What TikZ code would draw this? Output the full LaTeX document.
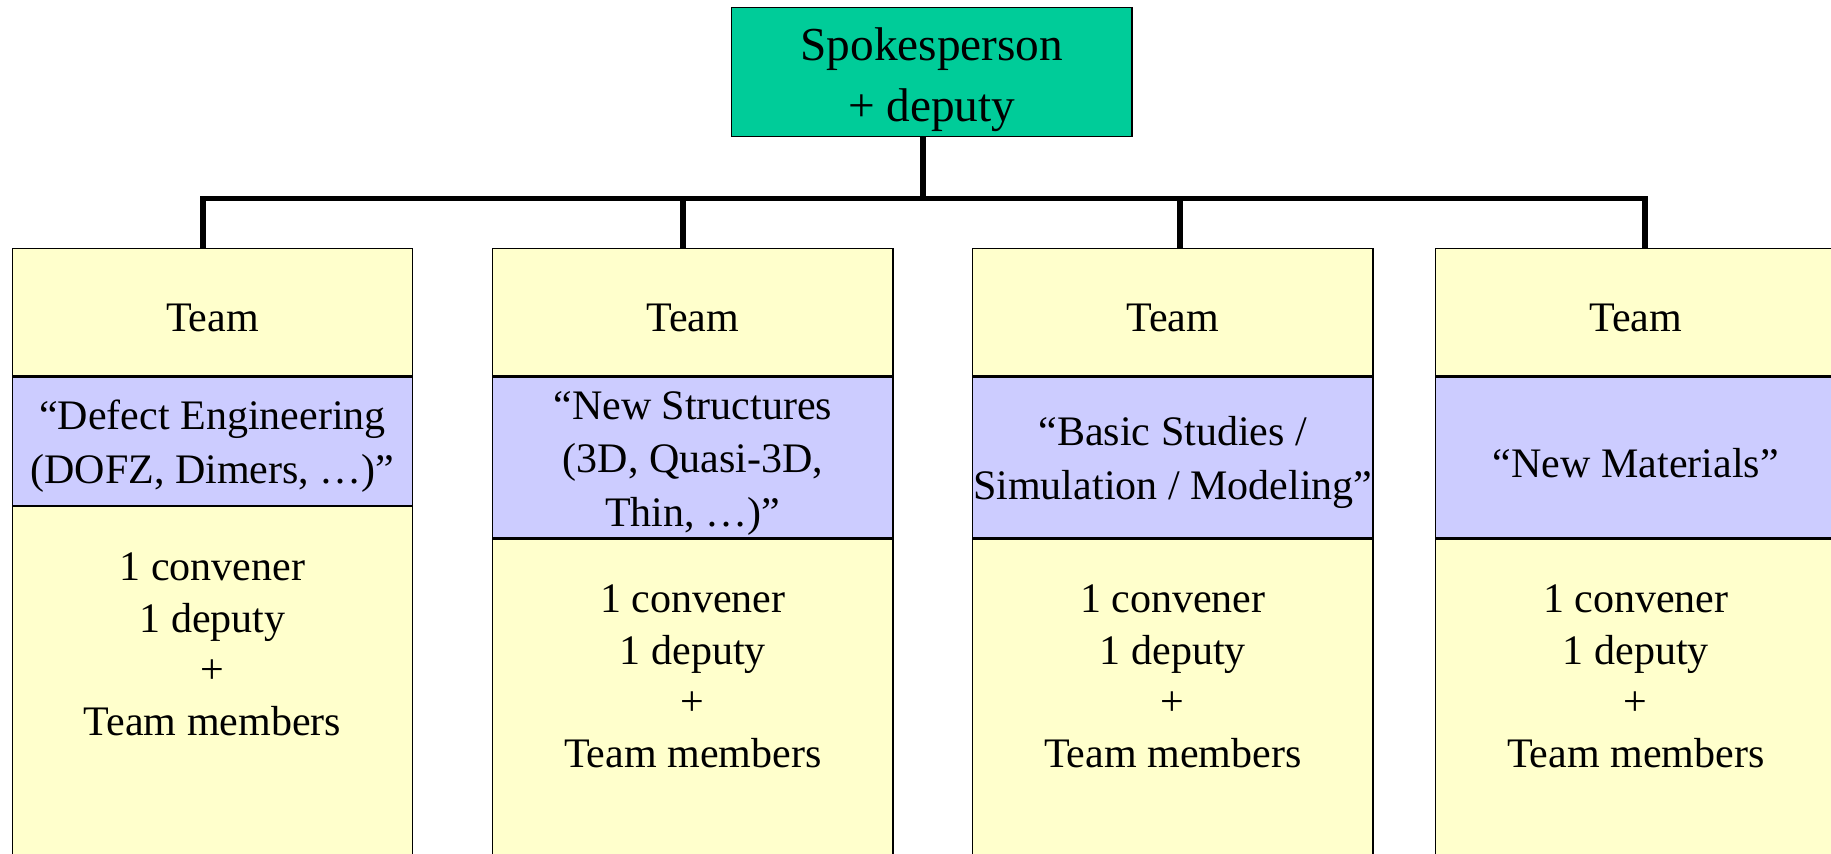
\documentclass[tikz,border=0pt]{standalone}
\usepackage{fontspec}
\setmainfont{Liberation Serif}
\usetikzlibrary{positioning}
\definecolor{spokegreen}{RGB}{0,204,153}
\definecolor{topicblue}{RGB}{204,204,255}
\definecolor{teamyellow}{RGB}{255,255,204}
\tikzset{
  box/.style={draw, line width=0.4pt, inner sep=0pt, minimum width=4cm, text width=4cm,
    align=flush center, anchor=north west, font=\fontsize{11.95}{15.3}\selectfont,
    execute at begin node={\rule{0pt}{0.4cm}}},
  headbox/.style={box, fill=spokegreen, minimum height=1.285cm, font=\fontsize{13.45}{17.3}\selectfont,
    execute at begin node={\rule{0pt}{0.48cm}}},
  teambox/.style={box, fill=teamyellow, minimum height=1.275cm},
  topicbox/.style={box, fill=topicblue},
  memberbox/.style={box, fill=teamyellow, minimum height=4cm},
  membertext/.style={align=center, inner sep=0pt, font=\fontsize{11.95}{14.7}\selectfont},
  link/.style={line width=1.6pt}
}
\begin{document}
\begin{tikzpicture}[x=0.01cm, y=-0.01cm]
      \useasboundingbox (0,0) rectangle (1831,853);
      \clip (0,0) rectangle (1831,853);
      % spokesperson
      \node[headbox] (head) at (731,7) {Spokesperson\\+ deputy};
      % teams
      \node[teambox] (team1) at (11.7,247.6) {Team};
      \node[teambox] (team2) at (492,247.6) {Team};
      \node[teambox] (team3) at (972,247.6) {Team};
      \node[teambox] (team4) at (1435,247.6) {Team};
      \node[topicbox, minimum height=1.28cm] (topic1) at (team1.south west) {“Defect Engineering\\(DOFZ, Dimers, …)”};
      \node[topicbox, minimum height=1.6cm] (topic2) at (team2.south west) {“New Structures\\(3D, Quasi-3D,\\Thin, …)”};
      \node[topicbox, minimum height=1.6cm] (topic3) at (team3.south west) {“Basic Studies /\\\makebox[0pt]{Simulation / Modeling”}};
      \node[topicbox, minimum height=1.6cm] (topic4) at (team4.south west) {“New Materials”};
      \node[memberbox] (members1) at (topic1.south west) {};
      \node[memberbox] (members2) at (topic2.south west) {};
      \node[memberbox] (members3) at (topic3.south west) {};
      \node[memberbox] (members4) at (topic4.south west) {};
      \node[membertext, below=0.46cm of topic1.south] (list1) {1 convener\\1 deputy\\+\\Team members};
      \node[membertext, below=0.46cm of topic2.south] (list2) {1 convener\\1 deputy\\+\\Team members};
      \node[membertext, below=0.46cm of topic3.south] (list3) {1 convener\\1 deputy\\+\\Team members};
      \node[membertext, below=0.46cm of topic4.south] (list4) {1 convener\\1 deputy\\+\\Team members};
      % tree lines
      \coordinate (hub) at (923,198.6);
      \coordinate (j1) at (203,198.6);
      \coordinate (j2) at (683,198.6);
      \coordinate (j3) at (1180,198.6);
      \coordinate (j4) at (1645,198.6);
      \begin{scope}[link]
        \draw (hub |- head.south) -- (hub);
        \draw (j1 |- team1.north) -- (j1) -- (j4) -- (j4 |- team4.north);
        \draw (j2) -- (j2 |- team2.north);
        \draw (j3) -- (j3 |- team3.north);
      \end{scope}
    \end{tikzpicture}
\end{document}
